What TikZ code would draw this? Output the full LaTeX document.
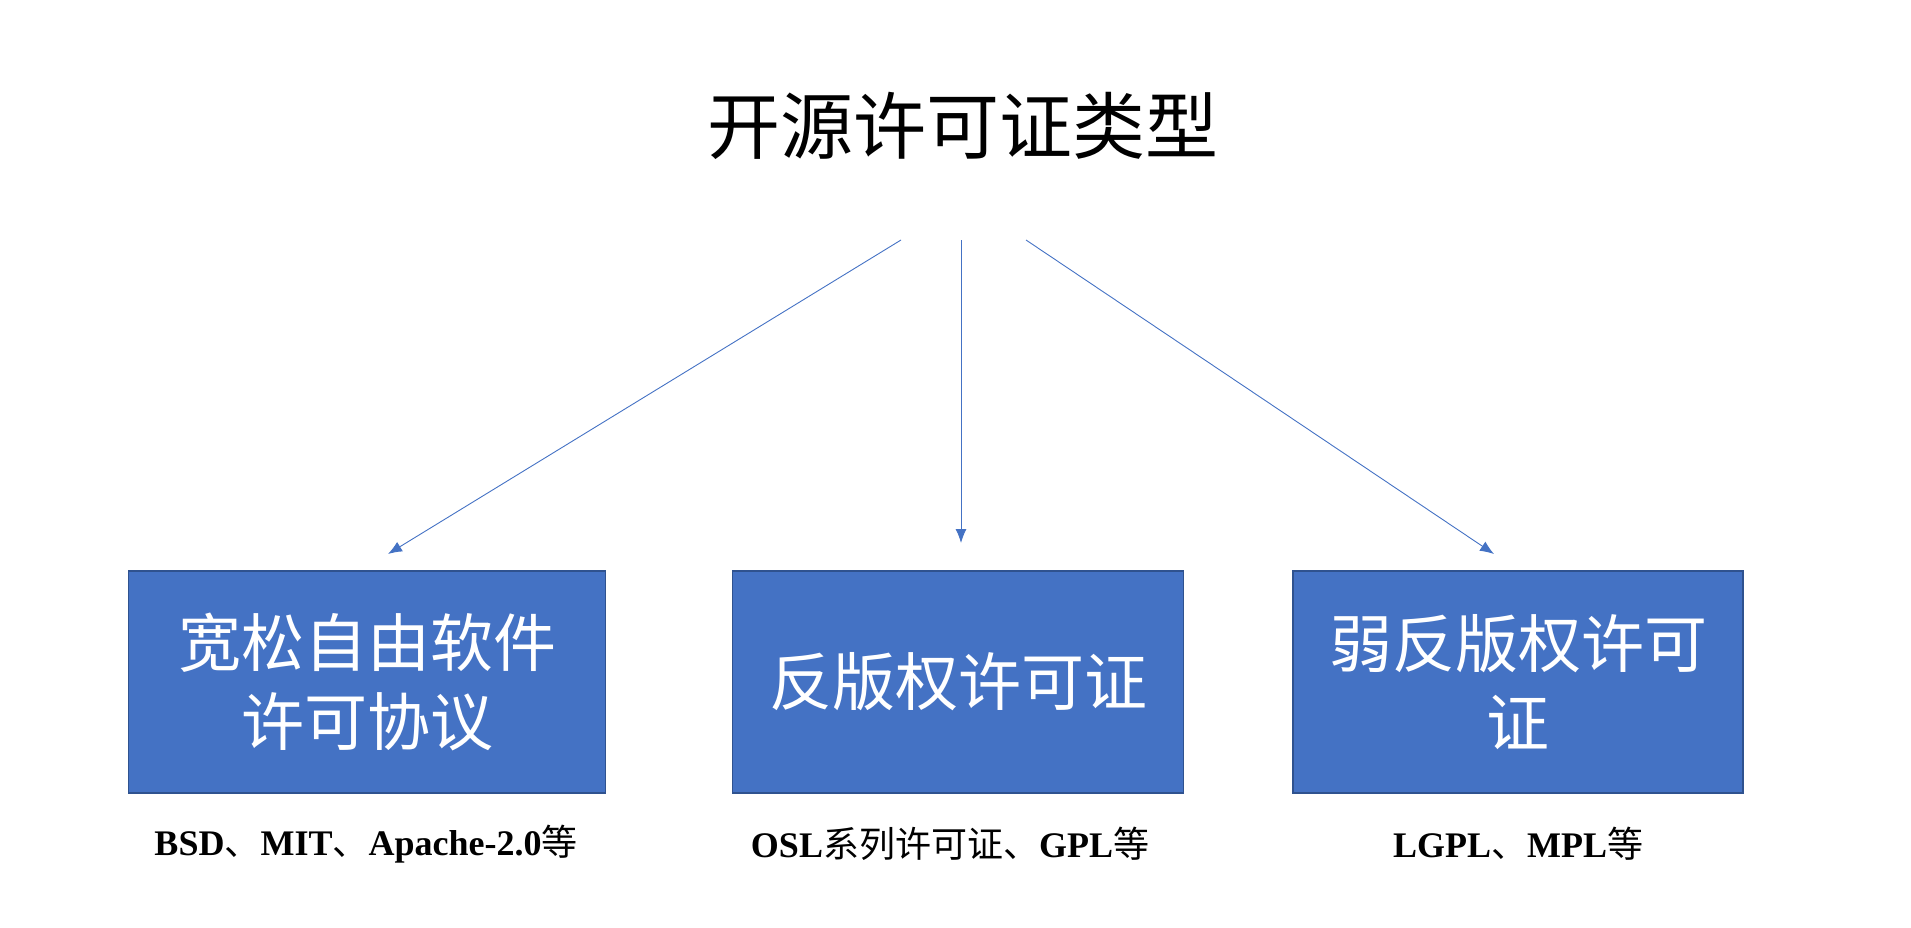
\documentclass[tikz,border=0pt]{standalone}
\usepackage{fontspec}
\setmainfont{Liberation Serif}
\newfontfamily\cjk{Noto Sans CJK SC}
\usetikzlibrary{arrows.meta,positioning}
\definecolor{boxblue}{HTML}{4472C4}
\definecolor{boxedge}{HTML}{2F528F}
\newcommand{\zh}[1]{{\cjk\mdseries #1}}

\begin{document}
\begin{tikzpicture}[x=1pt,y=-1pt,
	lic/.style={draw=boxedge, line width=1.5pt, fill=boxblue, text=white, minimum height=222pt, align=center, inner sep=0pt, font=\cjk\fontsize{63}{79}\selectfont},
	ex/.style={font=\bfseries\fontsize{36}{43}\selectfont, inner sep=0pt},
	link/.style={boxblue, line width=0.9pt, -{Latex[length=14pt,width=11pt]}}]
	\useasboundingbox (0,0) rectangle (1911,928);
	\node[font=\cjk\fontsize{73}{86}\selectfont] (title) at (963,126) {开源许可证类型};
	
	\node[lic, minimum width=477pt] (perm) at (367,682) {宽松自由软件\\许可协议};
	\node[lic, minimum width=451pt] (copy) at (958,682) {反版权许可证};
	\node[lic, minimum width=450pt] (weak) at (1518,682) {弱反版权许可\\证};
	
	\node[ex] (perm-ex) at (366,844) {BSD\zh{、}MIT\zh{、}Apache-2.0\zh{等}};
	\node[ex] (copy-ex) at (950,844) {OSL\zh{系列许可证、}GPL\zh{等}};
	\node[ex] (weak-ex) at (1518,844) {LGPL\zh{、}MPL\zh{等}};
	
	\coordinate (s1) at (901,240);
	\coordinate (s2) at (961,240);
	\coordinate (s3) at (1026,240);
	\coordinate (e1) at (388,554);
	\coordinate (e2) at (961,543);
	\coordinate (e3) at (1494,554);
	\draw[link] (s1)--(e1);
	\draw[link] (s2)--(e2);
	\draw[link] (s3)--(e3);
\end{tikzpicture}
\end{document}
